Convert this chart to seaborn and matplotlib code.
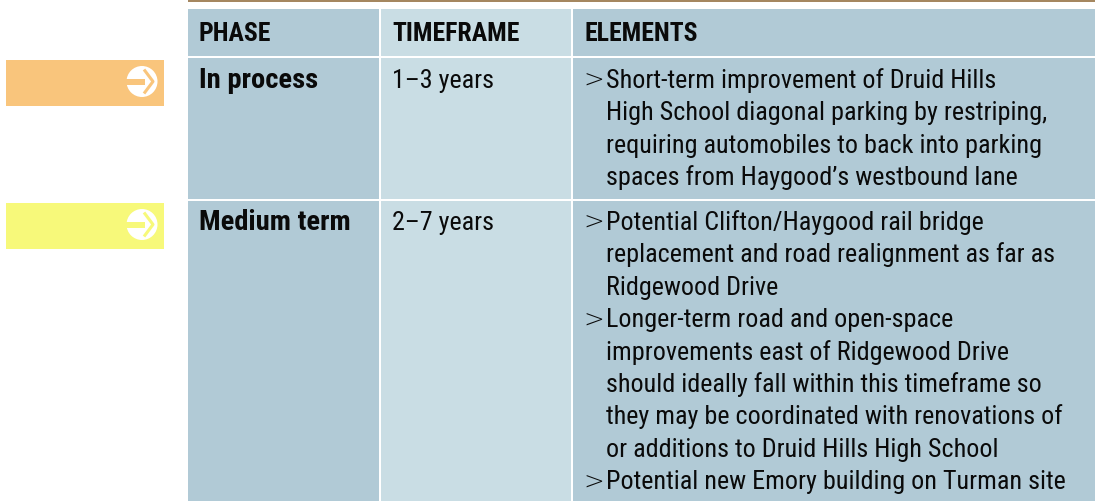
import matplotlib
matplotlib.use("Agg")
import matplotlib.pyplot as plt
from matplotlib import font_manager
from matplotlib.patches import Rectangle, Circle
import seaborn as sns

# ---- table content ----
headers = ["PHASE", "TIMEFRAME", "ELEMENTS"]
phases = ["In process", "Medium term"]
timeframes = ["1\u20133 years", "2\u20137 years"]
elements_in_process = [
    ["Short-term improvement of Druid Hills",
     "High School diagonal parking by restriping,",
     "requiring automobiles to back into parking",
     "spaces from Haygood\u2019s westbound lane"],
]
elements_medium = [
    ["Potential Clifton/Haygood rail bridge",
     "replacement and road realignment as far as",
     "Ridgewood Drive"],
    ["Longer-term road and open-space",
     "improvements east of Ridgewood Drive",
     "should ideally fall within this timeframe so",
     "they may be coordinated with renovations of",
     "or additions to Druid Hills High School"],
    ["Potential new Emory building on Turman site"],
]
elements = [elements_in_process, elements_medium]
phase_colors = ["#f9c57c", "#f7f97a"]

sns.set_theme(style="white")
names = {f.name for f in font_manager.fontManager.ttflist}
stretch = "normal"
if "Roboto Condensed" in names:
    fam = "Roboto Condensed"
elif "Liberation Sans Narrow" in names:
    fam = "Liberation Sans Narrow"
else:
    fam = "DejaVu Sans"
    stretch = "condensed"
plt.rcParams["font.family"] = [fam, "DejaVu Sans"]
plt.rcParams["font.stretch"] = stretch

W, H = 1095, 501
fig = plt.figure(figsize=(W / 100, H / 100), dpi=100)
ax = fig.add_axes([0, 0, 1, 1])
ax.set_xlim(0, W)
ax.set_ylim(H, 0)
ax.axis("off")

dark = "#b1cad6"
light = "#c9dde4"
col_x = [188, 381, 573]
col_w = [191, 190, 522]
col_fill = [dark, light, dark]
row_y = [9, 58, 201]
row_h = [47, 141, 300]
fs = 18.8
fs_head = 18.5
fs_phase = 20.5
text_col = "#0a0a0a"

# top brown rule
ax.add_patch(Rectangle((188, 0), W - 188, 1.6, color="#a58760", lw=0))

for r in range(3):
    for c in range(3):
        ax.add_patch(Rectangle((col_x[c], row_y[r]), col_w[c], row_h[r],
                               color=col_fill[c], lw=0))

# headers
for c, h in enumerate(headers):
    ax.text(col_x[c] + 11, 40.5, h, fontsize=fs_head, fontweight="bold",
            color=text_col, va="baseline", ha="left")

line_h = 32.4
first_base = [88, 230]
for r in range(2):
    ax.text(col_x[0] + 11, first_base[r], phases[r], fontsize=fs_phase,
            fontweight="bold", color=text_col, va="baseline")
    ax.text(col_x[1] + 11, first_base[r], timeframes[r], fontsize=fs,
            color=text_col, va="baseline")
    y = first_base[r]
    for item in elements[r]:
        ax.text(col_x[2] + 10, y, ">", fontsize=fs - 1, color=text_col,
                va="baseline", family="DejaVu Sans", fontweight="light")
        for ln in item:
            ax.text(col_x[2] + 33, y, ln, fontsize=fs, color=text_col,
                    va="baseline")
            y += line_h

    # phase colour tab with arrow icon
    top = row_y[r + 1] + 2
    ax.add_patch(Rectangle((6, top), 158, 46, color=phase_colors[r], lw=0))
    cx, cy = 142, top + 21.5
    ax.add_patch(Circle((cx, cy), 15.5, color="white", lw=0))
    ax.add_patch(Rectangle((cx - 16, cy - 3), 19, 6, color=phase_colors[r], lw=0))
    ax.plot([cx + 2, cx + 11, cx + 2], [cy - 12, cy, cy + 12],
            color=phase_colors[r], lw=2.2, solid_capstyle="butt")

fig.savefig("out.png", dpi=100)
